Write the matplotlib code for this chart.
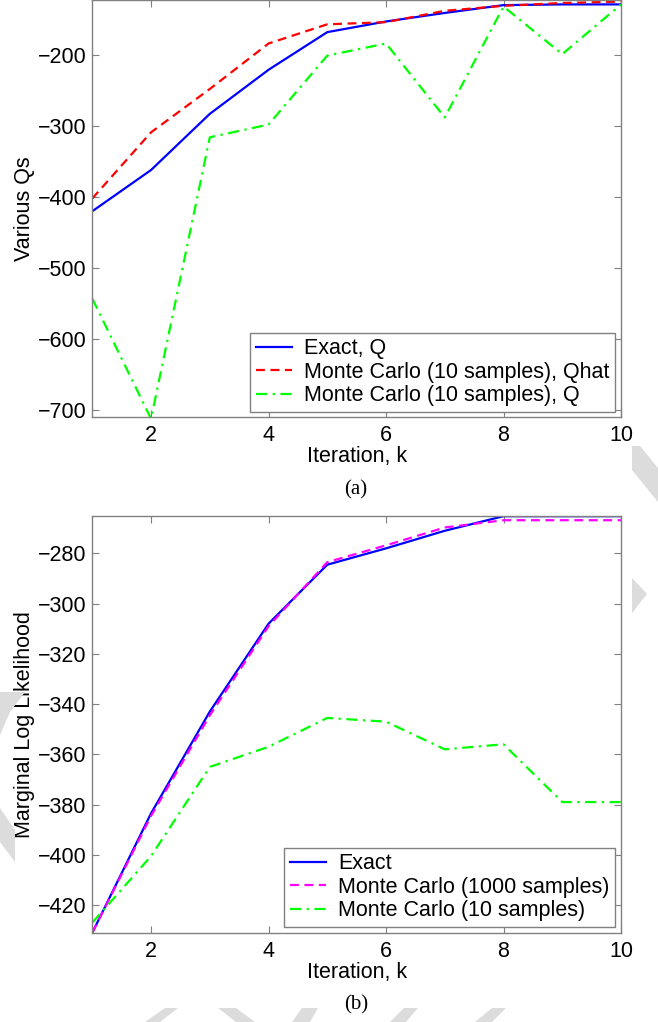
import matplotlib
matplotlib.use("Agg")
import matplotlib.pyplot as plt
from matplotlib.patches import Polygon

plt.rcParams['font.family'] = ['Liberation Sans', 'DejaVu Sans']
plt.rcParams['font.size'] = 15.5

iterations = [1, 2, 3, 4, 5, 6, 7, 8, 9, 10]

# (a) various Qs
exact_q = [-420, -362, -283, -221, -168, -153, -141, -130, -129, -129]
mc10_qhat = [-402, -309, -248, -184, -157, -154, -138, -131, -127, -125]
mc10_q = [-543, -712, -316, -298, -201, -184, -288, -132, -199, -129]

# (b) marginal log likelihood
exact_ll = [-431, -383.5, -343, -308, -284.5, -278, -271, -265.2, -265.2, -265.2]
mc1000_ll = [-431, -384.5, -344.5, -309, -283.5, -276.8, -269.7, -266.8, -266.8, -266.8]
mc10_ll = [-427, -400.5, -365, -357, -345.5, -347, -358, -356, -379, -379]

xticks = [2, 4, 6, 8, 10]

W, H = 658, 1022
fig = plt.figure(figsize=(W / 100, H / 100), dpi=100)

# faint grey watermark strokes behind everything
wm = '#dcdcdc'
shapes = [
    [(632, 446), (640, 446), (658, 468), (658, 502), (632, 470)],
    [(632, 578), (647, 594), (632, 613)],
    [(0, 692), (25, 692), (10, 712), (0, 735)],
    [(0, 808), (15, 830), (15, 862), (0, 842)],
    [(145, 1022), (165, 1008), (178, 1008), (160, 1022)],
    [(218, 1008), (236, 1008), (255, 1022), (236, 1022)],
    [(292, 1022), (302, 1008), (318, 1008), (310, 1022)],
    [(390, 1022), (404, 1008), (418, 1008), (406, 1022)],
    [(475, 1022), (492, 1008), (506, 1008), (492, 1022)],
]
for pts in shapes:
    poly = Polygon([(x / W, 1 - y / H) for x, y in pts], closed=True,
                   transform=fig.transFigure, facecolor=wm, edgecolor='none', zorder=0)
    fig.patches.append(poly)


def style_axes(ax):
    for s in ax.spines.values():
        s.set_color('#808080')
        s.set_linewidth(1.0)
    ax.tick_params(direction='in', top=True, right=True, length=5,
                   color='#808080', labelcolor='black', labelsize=15.5, pad=4)
    ax.tick_params(axis='x', pad=6)
    ax.set_xlim(1, 10)
    ax.set_xticks(xticks)


def add_legend(ax, bottom_px):
    leg = ax.legend(loc='lower right', bbox_to_anchor=(615 / W, 1 - bottom_px / H),
                    bbox_transform=fig.transFigure, fancybox=False, framealpha=1,
                    edgecolor='#808080', fontsize=15.5, borderpad=0.25,
                    labelspacing=0.12, handlelength=1.7, handletextpad=0.55,
                    borderaxespad=0)
    leg.get_frame().set_linewidth(1.0)


ax1 = fig.add_axes([92.3 / W, 1 - 417 / H, (621 - 92.3) / W, 416.5 / H])
ax1.plot(iterations, exact_q, color='#0000ff', lw=1.6, label='Exact, Q')
ax1.plot(iterations, mc10_qhat, color='#ff0000', lw=1.6, ls=(0, (4, 2.5)),
         label='Monte Carlo (10 samples), Qhat')
ax1.plot(iterations, mc10_q, color='#00ff00', lw=1.6, ls=(0, (5, 2.5, 1, 2.5)),
         label='Monte Carlo (10 samples), Q')
style_axes(ax1)
ax1.set_ylim(-709.5, -123.5)
yt1 = [-700, -600, -500, -400, -300, -200]
ax1.set_yticks(yt1)
ax1.set_yticklabels(['\u2212%d' % -v for v in yt1])
ax1.set_xlabel('Iteration, k', labelpad=0)
ax1.set_ylabel('Various Qs', labelpad=2)
add_legend(ax1, 411.7)

ax2 = fig.add_axes([92.3 / W, 1 - 932.7 / H, (621 - 92.3) / W, (932.7 - 515.7) / H])
ax2.plot(iterations, exact_ll, color='#0000ff', lw=1.6, label='Exact')
ax2.plot(iterations, mc1000_ll, color='#ff00ff', lw=1.6, ls=(0, (4, 2.5)),
         label='Monte Carlo (1000 samples)')
ax2.plot(iterations, mc10_ll, color='#00ff00', lw=1.6, ls=(0, (5, 2.5, 1, 2.5)),
         label='Monte Carlo (10 samples)')
style_axes(ax2)
ax2.set_ylim(-431, -265)
yt2 = [-420, -400, -380, -360, -340, -320, -300, -280]
ax2.set_yticks(yt2)
ax2.set_yticklabels(['\u2212%d' % -v for v in yt2])
ax2.set_xlabel('Iteration, k', labelpad=0)
ax2.set_ylabel('Marginal Log Likelihood', labelpad=2)
add_legend(ax2, 926.7)

fig.text(356 / W, 1 - 490 / H, '(a)', family='Liberation Serif', fontsize=15,
         ha='center', va='center')
fig.text(356 / W, 1 - 1005 / H, '(b)', family='Liberation Serif', fontsize=15,
         ha='center', va='center')

fig.savefig('out.png', dpi=100)
